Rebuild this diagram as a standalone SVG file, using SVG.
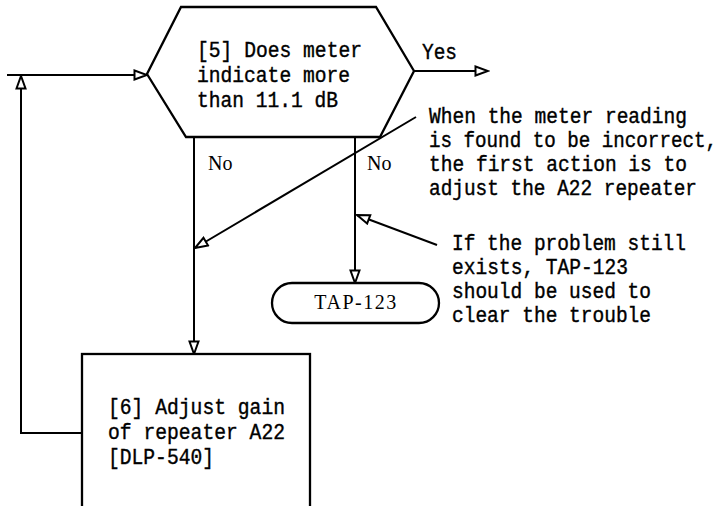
<svg xmlns="http://www.w3.org/2000/svg" width="725" height="506" viewBox="0 0 725 506">
<style>
.ln{fill:none;stroke:#000;stroke-width:2}
.shape{fill:#fff;stroke:#000;stroke-width:2.3}
.mono{font-family:"Liberation Mono","DejaVu Sans Mono",monospace;font-size:22px;fill:#000;stroke:#000;stroke-width:0.4}
.serif{font-family:"Liberation Serif","Times New Roman",serif;font-size:20px;fill:#000}
</style>
<defs>
<marker id="ah" markerWidth="16" markerHeight="12" refX="14" refY="6" orient="auto" markerUnits="userSpaceOnUse">
<path d="M1.5,1.5 L14,6 L1.5,10.5 Z" fill="#fff" stroke="#000" stroke-width="2" stroke-linejoin="miter"/>
</marker>
</defs>
<rect width="725" height="506" fill="#fff"/>
<g id="connectors">
<path class="ln" d="M7,75 L147,75" marker-end="url(#ah)"/>
<path class="ln" d="M82,433 L21,433 L21,76" marker-end="url(#ah)"/>
<path class="ln" d="M414,71 L488,71" marker-end="url(#ah)"/>
<path class="ln" d="M194,137 L194,354" marker-end="url(#ah)"/>
<path class="ln" d="M355,137 L355,283" marker-end="url(#ah)"/>
<path class="ln" d="M416,117 L195,248" marker-end="url(#ah)"/>
<path class="ln" d="M437,245 L357,215" marker-end="url(#ah)"/>
<text class="mono" x="422" y="59" textLength="35" lengthAdjust="spacingAndGlyphs">Yes</text>
<text class="serif" x="208" y="170">No</text>
<text class="serif" x="367" y="170">No</text>
</g>
<g id="decision5">
<polygon class="shape" points="181,7 376,7 414,71 380,137 186,137 147,74"/>
<text class="mono" x="197" y="57" textLength="165" lengthAdjust="spacingAndGlyphs">[5] Does meter</text>
<text class="mono" x="197" y="82" textLength="153" lengthAdjust="spacingAndGlyphs">indicate more</text>
<text class="mono" x="197" y="107" textLength="141" lengthAdjust="spacingAndGlyphs">than 11.1 dB</text>
</g>
<g id="tap123">
<rect class="shape" x="272" y="283" width="167" height="40" rx="20" ry="20"/>
<text class="serif" x="356" y="309" text-anchor="middle" letter-spacing="1.5">TAP-123</text>
</g>
<g id="step6">
<rect class="shape" x="82" y="354" width="228" height="170"/>
<text class="mono" x="108" y="414" textLength="177" lengthAdjust="spacingAndGlyphs">[6] Adjust gain</text>
<text class="mono" x="108" y="439" textLength="177" lengthAdjust="spacingAndGlyphs">of repeater A22</text>
<text class="mono" x="108" y="464" textLength="106" lengthAdjust="spacingAndGlyphs">[DLP-540]</text>
</g>
<g id="note1">
<text class="mono" x="429" y="123" textLength="258" lengthAdjust="spacingAndGlyphs">When the meter reading</text>
<text class="mono" x="429" y="147" textLength="288" lengthAdjust="spacingAndGlyphs">is found to be incorrect,</text>
<text class="mono" x="429" y="171" textLength="258" lengthAdjust="spacingAndGlyphs">the first action is to</text>
<text class="mono" x="429" y="195" textLength="268" lengthAdjust="spacingAndGlyphs">adjust the A22 repeater</text>
</g>
<g id="note2">
<text class="mono" x="452" y="250" textLength="234" lengthAdjust="spacingAndGlyphs">If the problem still</text>
<text class="mono" x="452" y="274" textLength="176" lengthAdjust="spacingAndGlyphs">exists, TAP-123</text>
<text class="mono" x="452" y="298" textLength="199" lengthAdjust="spacingAndGlyphs">should be used to</text>
<text class="mono" x="452" y="322" textLength="199" lengthAdjust="spacingAndGlyphs">clear the trouble</text>
</g>
</svg>
